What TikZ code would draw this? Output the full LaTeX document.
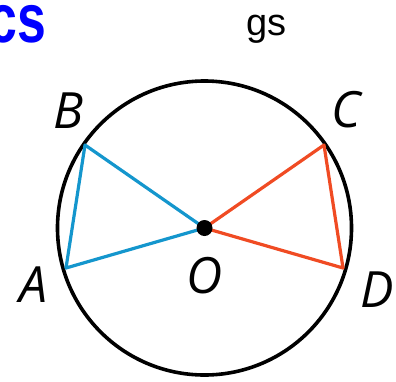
\documentclass[tikz,border=0pt]{standalone}
\usepackage{fontspec}
\setmainfont{Liberation Sans}
\newfontfamily\ptfont{Open Sans}
\definecolor{chordblue}{RGB}{20,150,205}
\definecolor{chordred}{RGB}{240,75,35}
\begin{document}
\begin{tikzpicture}[x=1pt,y=-1pt,
    ptlabel/.style={inner sep=0pt, font=\ptfont\itshape\fontsize{50}{50}\selectfont},
    chord/.style={line width=3.2pt, line join=round}]
    \useasboundingbox (0,0) rectangle (396,381);

    \coordinate (O) at (204.5,228);
    \coordinate (A) at (66,268);
    \coordinate (B) at (85,145);
    \coordinate (C) at (324,145);
    \coordinate (D) at (343,268);

    \draw[line width=3.6pt] (O) circle (147);
    \draw[chord, chordblue] (A)--(B)--(O)--cycle;
    \draw[chord, chordred] (C)--(D)--(O)--cycle;
    \fill (O) circle (8);

    \node[ptlabel] (labA) at (34,285) {A};
    \node[ptlabel] (labB) at (68.5,111) {B};
    \node[ptlabel] (labC) at (346,110) {C};
    \node[ptlabel] (labD) at (377,290) {D};
    \node[ptlabel] (labO) at (205,276) {O};

    \node[inner sep=0pt, anchor=base east, text=blue] (head) at (46,42) {\scalebox{0.75}[1]{\fontsize{69}{69}\selectfont\bfseries cs}};
    \node[inner sep=0pt, anchor=base east] (tail) at (287,35) {\fontsize{38}{38}\selectfont gs};
\end{tikzpicture}
\end{document}
